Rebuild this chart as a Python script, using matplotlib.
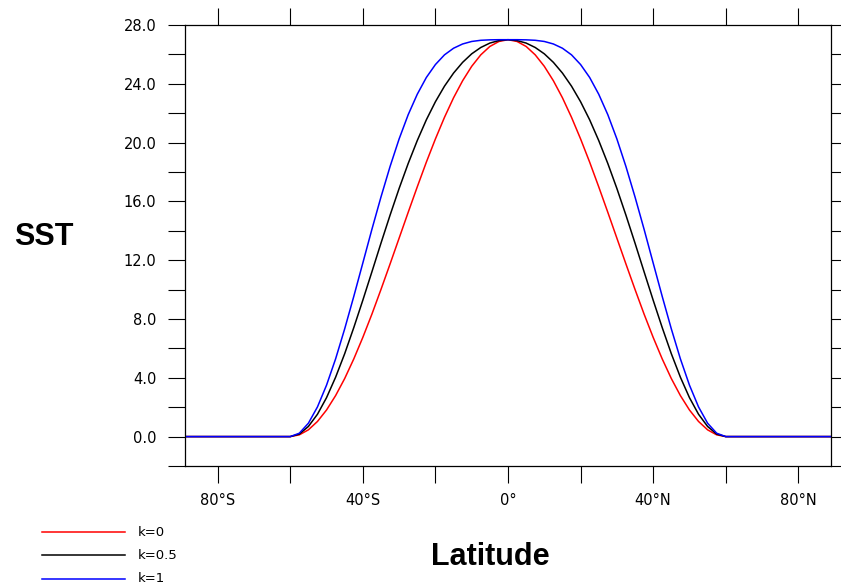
import matplotlib
matplotlib.use("Agg")
import matplotlib.pyplot as plt
from matplotlib.lines import Line2D
from matplotlib.ticker import FixedLocator

# latitude (degrees) and SST values
lat = [-90, -60, -57.5, -55, -52.5, -50, -47.5, -45, -42.5, -40, -37.5, -35, -32.5,
       -30, -27.5, -25, -22.5, -20, -17.5, -15, -12.5, -10, -7.5, -5, -2.5, 0,
       2.5, 5, 7.5, 10, 12.5, 15, 17.5, 20, 22.5, 25, 27.5, 30,
       32.5, 35, 37.5, 40, 42.5, 45, 47.5, 50, 52.5, 55, 57.5, 60, 90]
sst_k0 = [0, 0, 0.12, 0.46, 1.03, 1.81, 2.79, 3.95, 5.28, 6.75, 8.33, 10.01, 11.74,
          13.5, 15.26, 16.99, 18.67, 20.25, 21.72, 23.05, 24.21, 25.19, 25.97, 26.54, 26.88, 27,
          26.88, 26.54, 25.97, 25.19, 24.21, 23.05, 21.72, 20.25, 18.67, 16.99, 15.26, 13.5,
          11.74, 10.01, 8.33, 6.75, 5.28, 3.95, 2.79, 1.81, 1.03, 0.46, 0.12, 0, 0]
sst_k05 = [0, 0, 0.17, 0.69, 1.52, 2.65, 4.04, 5.64, 7.41, 9.28, 11.21, 13.16, 15.06,
           16.88, 18.58, 20.14, 21.55, 22.78, 23.84, 24.73, 25.46, 26.04, 26.47, 26.77, 26.94, 27,
           26.94, 26.77, 26.47, 26.04, 25.46, 24.73, 23.84, 22.78, 21.55, 20.14, 18.58, 16.88,
           15.06, 13.16, 11.21, 9.28, 7.41, 5.64, 4.04, 2.65, 1.52, 0.69, 0.17, 0, 0]
sst_k1 = [0, 0, 0.23, 0.91, 2.02, 3.50, 5.29, 7.33, 9.53, 11.81, 14.10, 16.30, 18.37,
          20.25, 21.90, 23.29, 24.43, 25.31, 25.97, 26.42, 26.71, 26.88, 26.96, 26.99, 27.0, 27,
          27.0, 26.99, 26.96, 26.88, 26.71, 26.42, 25.97, 25.31, 24.43, 23.29, 21.90, 20.25,
          18.37, 16.30, 14.10, 11.81, 9.53, 7.33, 5.29, 3.50, 2.02, 0.91, 0.23, 0, 0]

labels = ["k=0", "k=0.5", "k=1"]
colors = ["#ff0000", "#000000", "#0000ff"]

xticks = [-80, -40, 0, 40, 80]
xticklabels = ["80°S", "40°S", "0°", "40°N", "80°N"]
xminor = [-60, -20, 20, 60]
yticks = [0, 4, 8, 12, 16, 20, 24, 28]
yminor = [-2, 2, 6, 10, 14, 18, 22, 26]

W, H = 841, 587
fig = plt.figure(figsize=(W / 100, H / 100), dpi=100)
ax = fig.add_axes([185 / W, 1 - 466 / H, (831 - 185) / W, (466 - 25) / H])

for y, c in zip([sst_k0, sst_k05, sst_k1], colors):
    ax.plot(lat, y, color=c, lw=1.1)

ax.set_xlim(-89, 89)
ax.set_ylim(-2, 28)

ax.set_xticks(xticks)
ax.set_xticklabels(xticklabels)
ax.xaxis.set_minor_locator(FixedLocator(xminor))
ax.set_yticks(yticks)
ax.set_yticklabels(["%.1f" % v for v in yticks])
ax.yaxis.set_minor_locator(FixedLocator(yminor))

ax.tick_params(which="both", direction="out", length=12.5, width=0.8,
               top=True, right=True, labelsize=10.5, colors="black")
ax.tick_params(axis="x", pad=7)
ax.tick_params(axis="y", pad=8)
for lab in ax.get_xticklabels() + ax.get_yticklabels():
    lab.set_family("DejaVu Sans")
for sp in ax.spines.values():
    sp.set_linewidth(0.9)

fig.text(44 / W, 1 - 237 / H, "SST", fontsize=22, fontweight="bold",
         family="Liberation Sans", ha="center", va="center")
fig.text(490 / W, 1 - 557 / H, "Latitude", fontsize=22, fontweight="bold",
         family="Liberation Sans", ha="center", va="center")

# legend in the lower left corner
for i, (lb, c) in enumerate(zip(labels, colors)):
    yy = 1 - (532 + 23.3 * i) / H
    fig.add_artist(Line2D([42 / W, 125 / W], [yy, yy], color=c, lw=1.1,
                          transform=fig.transFigure))
    fig.text(138 / W, yy, lb, fontsize=9.5, family="DejaVu Sans",
             ha="left", va="center")

fig.savefig("out.png", dpi=100)
